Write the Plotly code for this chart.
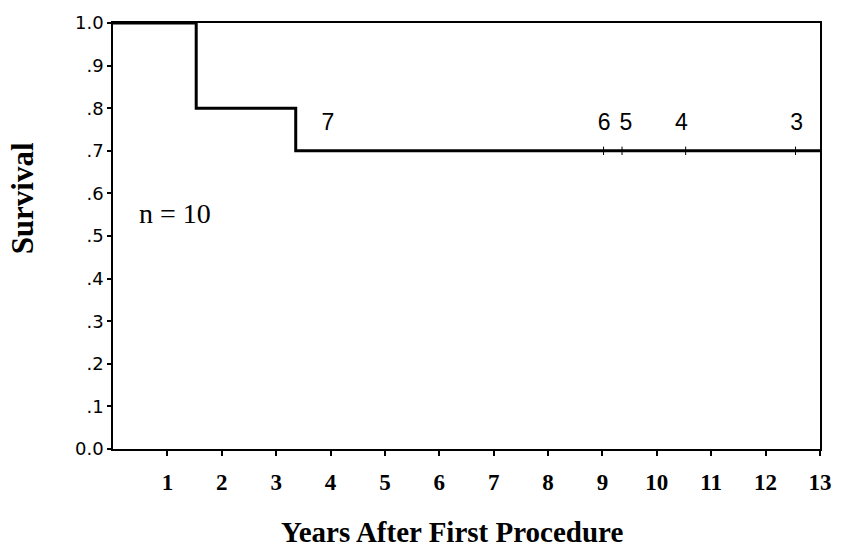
import plotly.graph_objects as go

# Kaplan-Meier step curve (years after first procedure, survival)
event_years = [0, 1.53, 3.36, 13]
survival = [1.0, 0.8, 0.7, 0.7]

# Censored observations on the 0.7 plateau
censor_years = [9.02, 9.36, 10.53, 12.55]
censor_surv = [0.7, 0.7, 0.7, 0.7]

# Numbers at risk printed above the curve
risk_years = [3.95, 9.03, 9.43, 10.45, 12.57]
risk_counts = ["7", "6", "5", "4", "3"]
risk_level = 0.762

y_ticks = [0.0, 0.1, 0.2, 0.3, 0.4, 0.5, 0.6, 0.7, 0.8, 0.9, 1.0]
y_tick_text = ["0.0", ".1", ".2", ".3", ".4", ".5", ".6", ".7", ".8", ".9", "1.0"]
x_ticks = list(range(1, 14))

fig = go.Figure()

fig.add_trace(go.Scatter(
    x=event_years, y=survival, mode="lines", line_shape="hv",
    line=dict(color="black", width=3), showlegend=False, hoverinfo="skip",
))

fig.add_trace(go.Scatter(
    x=censor_years, y=censor_surv, mode="markers",
    marker=dict(symbol="line-ns", size=6, line=dict(color="black", width=1)),
    showlegend=False, hoverinfo="skip",
))

fig.add_trace(go.Scatter(
    x=risk_years, y=[risk_level] * len(risk_years), mode="text",
    text=risk_counts, textposition="middle center",
    textfont=dict(family="Liberation Sans", size=23, color="black"),
    showlegend=False, hoverinfo="skip",
))

fig.add_annotation(
    x=0.44, y=0.553, xref="x", yref="y", text="n = 10", showarrow=False,
    font=dict(family="Liberation Serif", size=28, color="black"),
    xanchor="left", yanchor="middle",
)

fig.add_annotation(
    x=-0.1275, y=0.588, xref="paper", yref="paper", text="<b>Survival</b>",
    showarrow=False, textangle=-90,
    font=dict(family="Liberation Serif", size=31, color="black"),
    xanchor="center", yanchor="middle",
)

fig.add_annotation(
    x=0.479, y=-0.194, xref="paper", yref="paper",
    text="<b>Years After First Procedure</b>", showarrow=False,
    font=dict(family="Liberation Serif", size=29, color="black"),
    xanchor="center", yanchor="middle",
)

fig.update_xaxes(
    range=[0, 13], tickvals=x_ticks, ticktext=[str(v) for v in x_ticks],
    showline=True, linecolor="black", linewidth=1.5, mirror=True,
    ticks="outside", ticklen=5, tickwidth=2, tickcolor="black",
    ticklabelstandoff=7,
    showgrid=False, zeroline=False,
    tickfont=dict(family="Liberation Serif", size=23, color="black", weight="bold"),
)

fig.update_yaxes(
    range=[0, 1], tickvals=y_ticks, ticktext=y_tick_text,
    showline=True, linecolor="black", linewidth=1.5, mirror=True,
    ticks="outside", ticklen=4, tickwidth=2, tickcolor="black",
    showgrid=False, zeroline=False,
    tickfont=dict(family="DejaVu Sans", size=18, color="black"),
)

fig.update_layout(
    width=844, height=548,
    margin=dict(l=113, r=17, t=17, b=99),
    paper_bgcolor="white", plot_bgcolor="white",
)

fig.write_html("out.html")
